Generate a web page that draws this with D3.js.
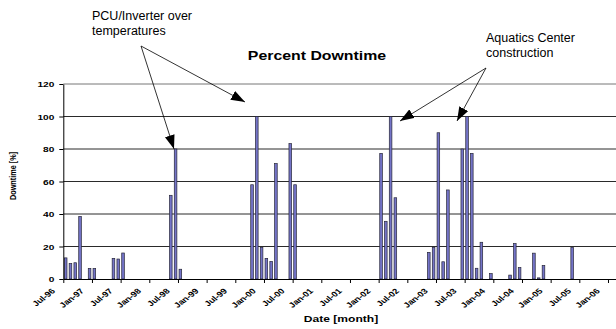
<!DOCTYPE html>
<html lang="en">
<head>
  <meta charset="UTF-8">
  <title>Percent Downtime</title>
  <style>
    body{ margin: 0; background: #fff; }
    svg{ display: block; font-family: "Liberation Sans", Arial, sans-serif; }
    .grid line{ stroke: #2a2a2a; stroke-width: 1px; }
    .bar{ fill: #7474c8; stroke: #262638; stroke-width: 0.7px; }
    .axis path, .axis line{ stroke: #000; stroke-width: 1px; }
    .axis text{ font-weight: bold; fill: #000; }
    .note{ font-size: 12.5px; fill: #000; }
    .arrow{ stroke: #000; stroke-width: 0.8px; fill: none; }
  </style>
</head>
<body>
  <script src="https://cdn.jsdelivr.net/npm/d3@7"></script>
  <script>
    const width = 616, height = 329;
    const sx = 1.27; // the picture is stretched sideways

    // months with downtime, and the downtime in percent
    const months = [
      '1996-07', '1996-08', '1996-09', '1996-10', '1996-12', '1997-01', '1997-05', '1997-06', '1997-07',
      '1998-05', '1998-06', '1998-07',
      '1999-10', '1999-11', '1999-12', '2000-01', '2000-02', '2000-03', '2000-06', '2000-07',
      '2002-01', '2002-02', '2002-03', '2002-04',
      '2002-11', '2002-12', '2003-01', '2003-02', '2003-03',
      '2003-06', '2003-07', '2003-08', '2003-09', '2003-10', '2003-12',
      '2004-04', '2004-05', '2004-06', '2004-09', '2004-10', '2004-11', '2005-05'
    ];
    const downtime = [
      13, 9.5, 10, 38.5, 6.5, 6.5, 12.7, 12.3, 16,
      51.5, 80, 6,
      58, 100, 19.5, 12.7, 10.8, 71, 83.3, 58,
      77.3, 35.5, 100, 50,
      16.4, 19.5, 90, 10.6, 54.8,
      80, 100, 77.3, 6.6, 22.6, 3.3,
      2.4, 21.8, 7, 15.9, 0.7, 8.3, 19.4
    ];
    const tickLabels = ['Jul-96', 'Jan-97', 'Jul-97', 'Jan-98', 'Jul-98', 'Jan-99', 'Jul-99', 'Jan-00',
      'Jul-00', 'Jan-01', 'Jul-01', 'Jan-02', 'Jul-02', 'Jan-03', 'Jul-03', 'Jan-04',
      'Jul-04', 'Jan-05', 'Jul-05', 'Jan-06'];
    const yTicks = [0, 20, 40, 60, 80, 100, 120];

    const parse = d3.timeParse('%Y-%m');
    const start = parse('1996-07');
    const monthIndex = m => d3.timeMonth.count(start, parse(m));

    const left = 63.3, step = 4.778, nMonths = 117;
    const x = d3.scaleLinear().domain([0, nMonths]).range([left, left + nMonths * step]);
    const y = d3.scaleLinear().domain([0, 120]).range([279, 84]);
    const barW = 2.6;

    const svg = d3.select('body').append('svg').attr('width', width).attr('height', height);

    // gridlines
    svg.append('g').attr('class', 'grid').selectAll('line')
      .data(yTicks.slice(1)).enter().append('line')
      .attr('x1', left).attr('x2', x(nMonths))
      .attr('y1', d => y(d)).attr('y2', d => y(d))
      .style('stroke', d => d === 120 ? '#777' : null);

    // bars
    svg.append('g').selectAll('rect')
      .data(months.map((m, i) => ({i: monthIndex(m), v: downtime[i]})))
      .enter().append('rect')
      .attr('class', 'bar')
      .attr('x', d => x(d.i + 0.5) - barW / 2)
      .attr('width', barW)
      .attr('y', d => y(d.v))
      .attr('height', d => y(0) - y(d.v));

    // y axis
    const gy = svg.append('g').attr('class', 'axis')
      .attr('transform', `translate(${left},0)`)
      .call(d3.axisLeft(y).tickValues(yTicks).tickSize(4).tickSizeOuter(0).tickPadding(5));
    gy.selectAll('text').attr('font-size', 8)
      .attr('transform', `scale(${sx},1)`)
      .attr('x', -9 / sx);

    // x axis
    const gx = svg.append('g').attr('class', 'axis')
      .attr('transform', `translate(0,${y(0)})`)
      .call(d3.axisBottom(x).tickValues(d3.range(0, 115, 6)).tickSize(4).tickSizeOuter(0)
        .tickFormat((d, i) => tickLabels[i]));
    gx.selectAll('text')
      .attr('font-size', 7.5)
      .attr('text-anchor', 'end')
      .attr('y', 0).attr('dy', 0)
      .attr('transform', `translate(-8,12.5) scale(${sx},1) rotate(-45)`);

    // titles
    svg.append('text').attr('font-weight', 'bold').attr('font-size', 12.5)
      .attr('text-anchor', 'middle')
      .attr('transform', `translate(317,60) scale(${sx},1)`)
      .text('Percent Downtime');
    svg.append('text').attr('font-weight', 'bold').attr('font-size', 9.5)
      .attr('text-anchor', 'middle')
      .attr('transform', `translate(341,322) scale(${sx},1)`)
      .text('Date [month]');
    svg.append('text').attr('font-weight', 'bold').attr('font-size', 7.3)
      .attr('text-anchor', 'middle')
      .attr('transform', `translate(16,176) scale(${sx},1) rotate(-90)`)
      .text('Downtime [%]');

    // annotations
    svg.append('defs').append('marker')
      .attr('id', 'head').attr('markerUnits', 'userSpaceOnUse')
      .attr('viewBox', '0 0 14 10').attr('refX', 14).attr('refY', 5)
      .attr('markerWidth', 14).attr('markerHeight', 10).attr('orient', 'auto')
      .append('path').attr('d', 'M0,0L14,5L0,10Z').attr('fill', '#000');

    const notes = [
      {lines: ['PCU/Inverter over', 'temperatures'], x: 92, y: 20,
        from: [141, 46], to: [[174, 149], [245, 102]]},
      {lines: ['Aquatics Center', 'construction'], x: 486, y: 42,
        from: [486, 68], to: [[400, 121], [457, 121]]}
    ];
    notes.forEach(function(n){
      svg.append('text').attr('class', 'note').selectAll('tspan')
        .data(n.lines).enter().append('tspan')
        .attr('x', n.x).attr('y', (d, i) => n.y + i * 14.5)
        .text(d => d);
      n.to.forEach(function(t){
        svg.append('line').attr('class', 'arrow')
          .attr('x1', n.from[0]).attr('y1', n.from[1])
          .attr('x2', t[0]).attr('y2', t[1])
          .attr('marker-end', 'url(#head)');
      });
    });
  </script>
</body>
</html>
